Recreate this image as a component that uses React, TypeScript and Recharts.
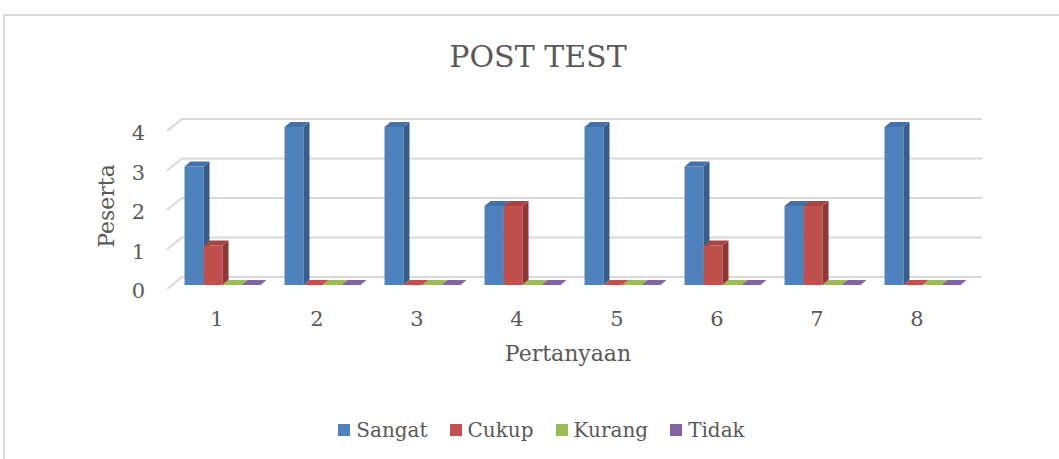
import React from "react";
import { BarChart, Bar, XAxis, YAxis, CartesianGrid, Legend, Label } from "recharts";

const categories = ["1", "2", "3", "4", "5", "6", "7", "8"];
const sangat = [3, 4, 4, 2, 4, 3, 2, 4];
const cukup = [1, 0, 0, 2, 0, 1, 2, 0];
const kurang = [0, 0, 0, 0, 0, 0, 0, 0];
const tidak = [0, 0, 0, 0, 0, 0, 0, 0];
const yTicks = [0, 1, 2, 3, 4];

const series = [
  { key: "Sangat", values: sangat, front: "#4F81BD", side: "#385D8A", top: "#4272AC" },
  { key: "Cukup", values: cukup, front: "#C0504D", side: "#8C3836", top: "#A84441" },
  { key: "Kurang", values: kurang, front: "#9BBB59", side: "#71893F", top: "#8AAA4A" },
  { key: "Tidak", values: tidak, front: "#8064A2", side: "#5C4776", top: "#6E5690" },
];

const data = categories.map((c, i) => {
  const row: Record<string, string | number> = { name: c };
  series.forEach((s) => (row[s.key] = s.values[i]));
  return row;
});

const FONT = "'DejaVu Serif', serif";
const TEXT = "#595959";
const DX = 6;
const DY = 5;

function make3DBar(s: (typeof series)[number]) {
  return (props: any) => {
    const { x, y, width: w, height: h } = props;
    if (x == null || y == null) return <g />;
    const hh = Math.max(0, h || 0);
    const top = `${x},${y} ${x + DX},${y - DY} ${x + w + DX},${y - DY} ${x + w},${y}`;
    if (hh < 0.5) {
      return <polygon points={top} fill={s.front} />;
    }
    const side = `${x + w},${y} ${x + w + DX},${y - DY} ${x + w + DX},${y + hh - DY} ${x + w},${y + hh}`;
    return (
      <g>
        <rect x={x} y={y} width={w} height={hh} fill={s.front} />
        <polygon points={side} fill={s.side} />
        <polygon points={top} fill={s.top} />
      </g>
    );
  };
}

const gridLine = (props: any) => {
  const { x1, x2, y1, index } = props;
  const d = `M${x1 - 5},${y1 + 4} L${x1 + 10},${y1 - 8} L${x2 + 10},${y1 - 8}`;
  return <path key={`g-${index}`} d={d} stroke="#D9D9D9" strokeWidth={2} fill="none" />;
};

const XTick = (props: any) => {
  const { x, y, payload } = props;
  return (
    <text x={x - 5} y={y + 34} textAnchor="middle" dominantBaseline="central" fill={TEXT} fontSize={21} fontFamily={FONT}>
      {payload.value}
    </text>
  );
};

const YTick = (props: any) => {
  const { x, y, payload } = props;
  return (
    <text x={x - 27} y={y + 6} textAnchor="end" dominantBaseline="central" fill={TEXT} fontSize={21} fontFamily={FONT}>
      {payload.value}
    </text>
  );
};

const LegendContent = () => (
  <div style={{ display: "flex", justifyContent: "center", alignItems: "center", fontFamily: FONT, fontSize: 20, color: TEXT }}>
    {series.map((s) => (
      <div key={s.key} style={{ display: "flex", alignItems: "center", margin: "0 11px" }}>
        <span style={{ width: 12, height: 12, background: s.front, display: "inline-block", marginRight: 6 }} />
        <span>{s.key}</span>
      </div>
    ))}
  </div>
);

export default function App() {
  return (
    <div style={{ position: "absolute", left: 0, top: 0, width: 1059, height: 459, overflow: "hidden", background: "#fff" }}>
      <div style={{ position: "absolute", left: 3, top: 14, width: 1100, height: 500, border: "2px solid #D9D9D9" }} />
      <div
        style={{
          position: "absolute",
          left: 0,
          width: 1076,
          top: 37,
          textAlign: "center",
          fontFamily: FONT,
          fontSize: 30,
          color: TEXT,
          lineHeight: "40px",
        }}
      >
        POST TEST
      </div>
      <div style={{ position: "absolute", left: 0, top: 0 }}>
        <BarChart
          width={1059}
          height={459}
          data={data}
          margin={{ top: 127, right: 87, bottom: 65, left: 92 }}
          barCategoryGap="12.5%"
          barGap={0}
        >
          <CartesianGrid vertical={false} horizontal={gridLine} />
          <XAxis dataKey="name" axisLine={false} tickLine={false} tickSize={0} tickMargin={0} height={85} tick={<XTick />} interval={0}>
            <Label
              content={(p: any) => {
                const vb = p.viewBox;
                return (
                  <text x={vb.x + vb.width / 2 - 4} y={vb.y + 68} textAnchor="middle" dominantBaseline="central" fill={TEXT} fontSize={22} fontFamily={FONT}>
                    Pertanyaan
                  </text>
                );
              }}
            />
          </XAxis>
          <YAxis
            domain={[0, 4]}
            ticks={yTicks}
            axisLine={false}
            tickLine={false}
            tickSize={0}
            tickMargin={0}
            width={80}
            tick={<YTick />}
          >
            <Label
              content={(p: any) => {
                const vb = p.viewBox;
                const cx = vb.x + 14;
                const cy = vb.y + vb.height / 2;
                return (
                  <text x={cx} y={cy} transform={`rotate(-90 ${cx} ${cy})`} textAnchor="middle" dominantBaseline="central" fill={TEXT} fontSize={22} fontFamily={FONT}>
                    Peserta
                  </text>
                );
              }}
            />
          </YAxis>
          <Legend
            verticalAlign="bottom"
            content={<LegendContent />}
            wrapperStyle={{ top: 418, bottom: "auto", left: 0, width: 1083 }}
          />
          {series.map((s) => (
            <Bar key={s.key} dataKey={s.key} isAnimationActive={false} shape={make3DBar(s)} />
          ))}
        </BarChart>
      </div>
    </div>
  );
}
